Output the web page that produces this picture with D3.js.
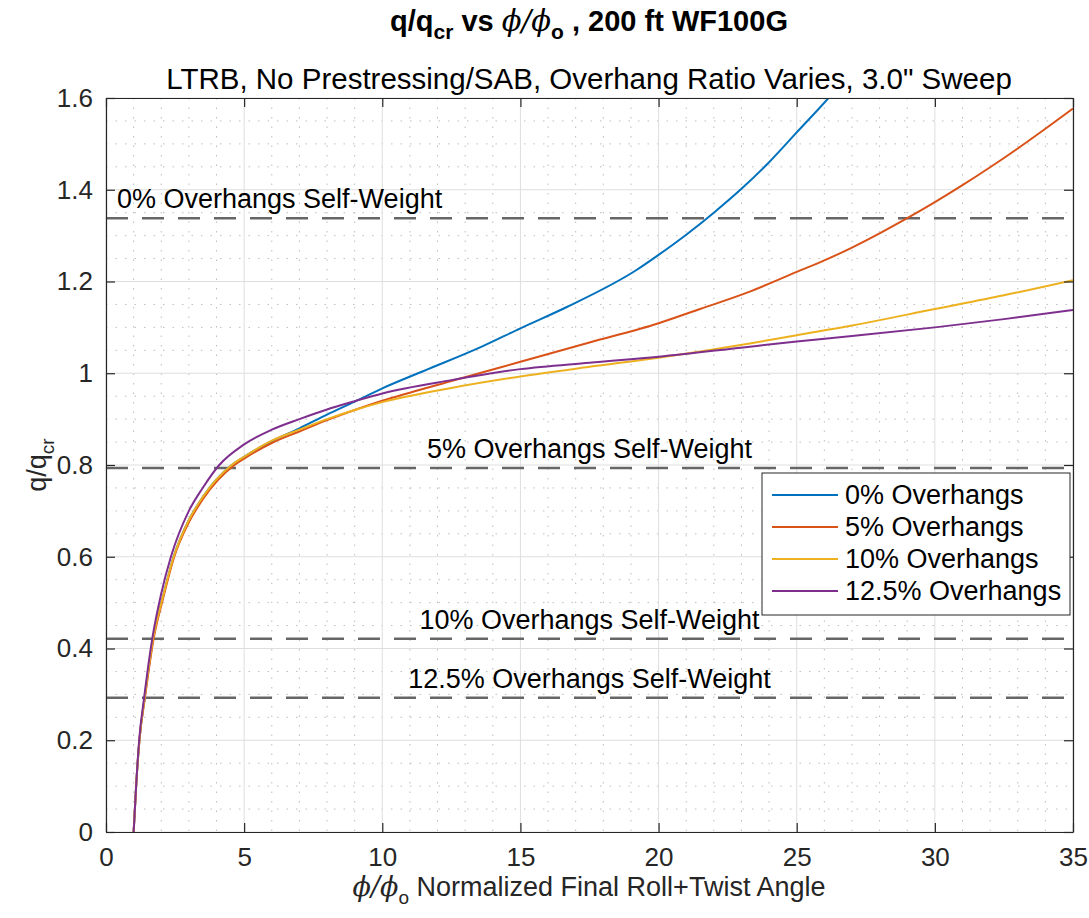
<!DOCTYPE html>
<html>
<head>
<meta charset="utf-8">
<script src="https://cdn.jsdelivr.net/npm/d3@7"></script>
<style>
  body { margin: 0; background: #fff; }
  svg { display: block; font-family: "Liberation Sans", Arial, sans-serif; }
</style>
</head>
<body>
<div id="chart"></div>
<script>
// series (x = phi/phi_o, y = q/q_cr)
const seriesNames = ["0% Overhangs", "5% Overhangs", "10% Overhangs", "12.5% Overhangs"];
const seriesColors = ["#0072BD", "#D95319", "#EDB120", "#7E2F8E"];

const blueX = [1, 1.1, 1.21, 1.4, 1.7, 2.05, 2.45, 3, 3.5, 4.55, 5, 6, 7, 8, 9, 10, 11.5, 13.6, 15, 16.7, 19.2, 20, 21, 22, 23, 24, 25, 26.15, 27];
const blueY = [0, 0.11, 0.2, 0.293, 0.42, 0.51, 0.6, 0.68, 0.73, 0.8, 0.818, 0.852, 0.88, 0.91, 0.938, 0.967, 1.005, 1.058, 1.098, 1.145, 1.225, 1.258, 1.302, 1.35, 1.402, 1.46, 1.525, 1.6, 1.66];

const orangeX = [1, 1.1, 1.21, 1.41, 1.72, 2.07, 2.47, 3, 3.5, 4.65, 5, 6, 7, 8, 9, 10, 12.5, 15, 17.5, 20, 21.5, 23.3, 25, 26, 27, 28, 29, 30, 31, 32, 33, 34, 35];
const orangeY = [0, 0.11, 0.2, 0.293, 0.42, 0.51, 0.6, 0.675, 0.725, 0.8, 0.814, 0.848, 0.873, 0.898, 0.92, 0.94, 0.983, 1.025, 1.067, 1.109, 1.14, 1.178, 1.221, 1.246, 1.274, 1.305, 1.338, 1.373, 1.41, 1.449, 1.49, 1.533, 1.577];

const yellowX = [1, 1.1, 1.21, 1.4, 1.7, 2.05, 2.45, 3, 3.5, 4.55, 5, 6, 7, 8, 9, 10, 12.5, 15, 17.5, 20, 23.3, 25, 27, 30, 32.5, 35];
const yellowY = [0, 0.11, 0.2, 0.293, 0.42, 0.51, 0.6, 0.68, 0.73, 0.8, 0.818, 0.853, 0.877, 0.9, 0.92, 0.937, 0.968, 0.993, 1.014, 1.034, 1.065, 1.083, 1.104, 1.14, 1.17, 1.203];

const purpleX = [1, 1.1, 1.2, 1.38, 1.67, 2, 2.35, 3, 3.5, 4.1, 5, 6, 7, 8, 9, 10, 12.5, 15, 17.5, 20, 23.3, 25, 27, 30, 32.5, 35];
const purpleY = [0, 0.11, 0.2, 0.293, 0.42, 0.52, 0.6, 0.7, 0.75, 0.8, 0.845, 0.877, 0.9, 0.921, 0.939, 0.956, 0.985, 1.009, 1.023, 1.036, 1.058, 1.069, 1.081, 1.1, 1.118, 1.138];

// self-weight reference lines
const ylineValues = [1.338, 0.7935, 0.4213, 0.2928];
const ylineLabels = ["0% Overhangs Self-Weight", "5% Overhangs Self-Weight", "10% Overhangs Self-Weight", "12.5% Overhangs Self-Weight"];

const xTicks = [0, 5, 10, 15, 20, 25, 30, 35];
const xTickLabels = ["0", "5", "10", "15", "20", "25", "30", "35"];
const yTicks = [0, 0.2, 0.4, 0.6, 0.8, 1, 1.2, 1.4, 1.6];
const yTickLabels = ["0", "0.2", "0.4", "0.6", "0.8", "1", "1.2", "1.4", "1.6"];

let margin = { top: 98, right: 16, bottom: 86, left: 106 },
  width = 1089 - margin.left - margin.right,
  height = 918 - margin.top - margin.bottom;

let svg = d3
  .select("#chart")
  .append("svg")
  .attr("width", 1089)
  .attr("height", 918)
  .append("g")
  .attr("transform", "translate(" + margin.left + "," + margin.top + ")");

let x = d3.scaleLinear().domain([0, 35]).range([0, width]);
let y = d3.scaleLinear().domain([0, 1.6]).range([height, 0]);

// minor grid (dotted)
const xMinor = d3.range(0, 36, 1).filter((v) => v % 5 !== 0);
const yMinor = d3.range(0, 33, 1).map((v) => v * 0.05).filter((v, i) => i % 4 !== 0);

const grid = svg.append("g").attr("class", "grid");
grid.selectAll(".minor-x").data(xMinor).join("line")
  .attr("x1", (d) => x(d)).attr("x2", (d) => x(d))
  .attr("y1", 0).attr("y2", height)
  .attr("stroke", "#bdbdbd").attr("stroke-width", 1)
  .attr("stroke-dasharray", "1.5,8");
grid.selectAll(".minor-y").data(yMinor).join("line")
  .attr("x1", 0).attr("x2", width)
  .attr("y1", (d) => y(d)).attr("y2", (d) => y(d))
  .attr("stroke", "#bdbdbd").attr("stroke-width", 1)
  .attr("stroke-dasharray", "1.5,8");

// major grid
grid.selectAll(".major-x").data(xTicks).join("line")
  .attr("x1", (d) => x(d)).attr("x2", (d) => x(d))
  .attr("y1", 0).attr("y2", height)
  .attr("stroke", "#dedede").attr("stroke-width", 1);
grid.selectAll(".major-y").data(yTicks).join("line")
  .attr("x1", 0).attr("x2", width)
  .attr("y1", (d) => y(d)).attr("y2", (d) => y(d))
  .attr("stroke", "#dedede").attr("stroke-width", 1);

svg.append("clipPath").attr("id", "plot-clip")
  .append("rect").attr("width", width).attr("height", height);

// dashed self-weight lines
const ylines = svg.append("g").attr("class", "ylines");
ylines.selectAll("line").data(ylineValues).join("line")
  .attr("x1", 0).attr("x2", width)
  .attr("y1", (d) => y(d)).attr("y2", (d) => y(d))
  .attr("stroke", "#666666").attr("stroke-width", 2.5)
  .attr("stroke-dasharray", "22,14");

ylines.selectAll("text").data(ylineValues).join("text")
  .attr("x", (d, i) => (i === 0 ? 11 : width / 2))
  .attr("y", (d) => y(d) - 10)
  .attr("text-anchor", (d, i) => (i === 0 ? "start" : "middle"))
  .attr("font-size", 27)
  .attr("fill", "#000")
  .text((d, i) => ylineLabels[i]);

// curves
const seriesData = [
  d3.zip(blueX, blueY),
  d3.zip(orangeX, orangeY),
  d3.zip(yellowX, yellowY),
  d3.zip(purpleX, purpleY),
];

const line = d3.line()
  .x((d) => x(d[0]))
  .y((d) => y(d[1]))
  .curve(d3.curveMonotoneX);

svg.append("g").attr("clip-path", "url(#plot-clip)")
  .selectAll("path").data(seriesData).join("path")
  .attr("d", line)
  .attr("fill", "none")
  .attr("stroke", (d, i) => seriesColors[i])
  .attr("stroke-width", 2);

// axes (ticks inward, box on)
function styleAxis(g) {
  g.select(".domain").attr("stroke", "#262626").attr("stroke-width", 1.2);
  g.selectAll(".tick line").attr("stroke", "#262626").attr("stroke-width", 1.2);
  g.selectAll(".tick text").attr("fill", "#262626").attr("font-size", 26)
    .attr("font-family", "Liberation Sans, Arial, sans-serif");
}

svg.append("g")
  .attr("transform", "translate(0," + height + ")")
  .call(d3.axisBottom(x).tickValues(xTicks).tickFormat((d, i) => xTickLabels[i])
    .tickSizeInner(-9).tickSizeOuter(0).tickPadding(16))
  .call(styleAxis);

svg.append("g")
  .call(d3.axisTop(x).tickValues(xTicks).tickFormat("").tickSizeInner(-9).tickSizeOuter(0))
  .call(styleAxis);

svg.append("g")
  .call(d3.axisLeft(y).tickValues(yTicks).tickFormat((d, i) => yTickLabels[i])
    .tickSizeInner(-9).tickSizeOuter(0).tickPadding(13))
  .call(styleAxis);

svg.append("g")
  .attr("transform", "translate(" + width + ",0)")
  .call(d3.axisRight(y).tickValues(yTicks).tickFormat("").tickSizeInner(-9).tickSizeOuter(0))
  .call(styleAxis);

// legend
const legend = svg.append("g")
  .attr("transform", "translate(" + (762 - margin.left) + "," + (473 - margin.top) + ")");
legend.append("rect")
  .attr("width", 308).attr("height", 142)
  .attr("fill", "#fff").attr("stroke", "#262626").attr("stroke-width", 1);
const legendItem = legend.selectAll(".legend-item").data(seriesNames).join("g")
  .attr("class", "legend-item")
  .attr("transform", (d, i) => "translate(0," + (22 + i * 32) + ")");
legendItem.append("line")
  .attr("x1", 10).attr("x2", 76)
  .attr("stroke", (d, i) => seriesColors[i]).attr("stroke-width", 2);
legendItem.append("text")
  .attr("x", 83).attr("dy", "0.35em")
  .attr("font-size", 27).attr("fill", "#000")
  .text((d) => d);

// titles
const root = d3.select("#chart svg");
const title = root.append("text")
  .attr("x", 589).attr("y", 31)
  .attr("text-anchor", "middle")
  .attr("font-size", 29).attr("font-weight", "bold");
title.append("tspan").text("q/q");
title.append("tspan").attr("font-size", 21).attr("dy", 8).text("cr");
title.append("tspan").attr("dy", -8).text(" vs ");
title.append("tspan").attr("font-family", "DejaVu Serif, serif").attr("font-style", "italic")
  .attr("font-weight", "normal").text("\u03D5/\u03D5");
title.append("tspan").attr("font-size", 21).attr("dy", 8).text("o");
title.append("tspan").attr("dy", -8).text(" , 200 ft WF100G");

root.append("text")
  .attr("x", 589).attr("y", 89)
  .attr("text-anchor", "middle")
  .attr("font-size", 29.5)
  .text("LTRB, No Prestressing/SAB, Overhang Ratio Varies, 3.0\" Sweep");

const xLabel = root.append("text")
  .attr("x", 589).attr("y", 896)
  .attr("text-anchor", "middle")
  .attr("font-size", 27).attr("fill", "#262626");
xLabel.append("tspan").attr("font-family", "DejaVu Serif, serif").attr("font-style", "italic").text("\u03D5/\u03D5");
xLabel.append("tspan").attr("font-size", 19).attr("dy", 8).text("o");
xLabel.append("tspan").attr("dy", -8).text(" Normalized Final Roll+Twist Angle");

const yLabel = root.append("text")
  .attr("transform", "translate(46,465) rotate(-90)")
  .attr("text-anchor", "middle")
  .attr("font-size", 27).attr("fill", "#262626");
yLabel.append("tspan").text("q/q");
yLabel.append("tspan").attr("font-size", 19).attr("dy", 8).text("cr");
</script>
</body>
</html>
